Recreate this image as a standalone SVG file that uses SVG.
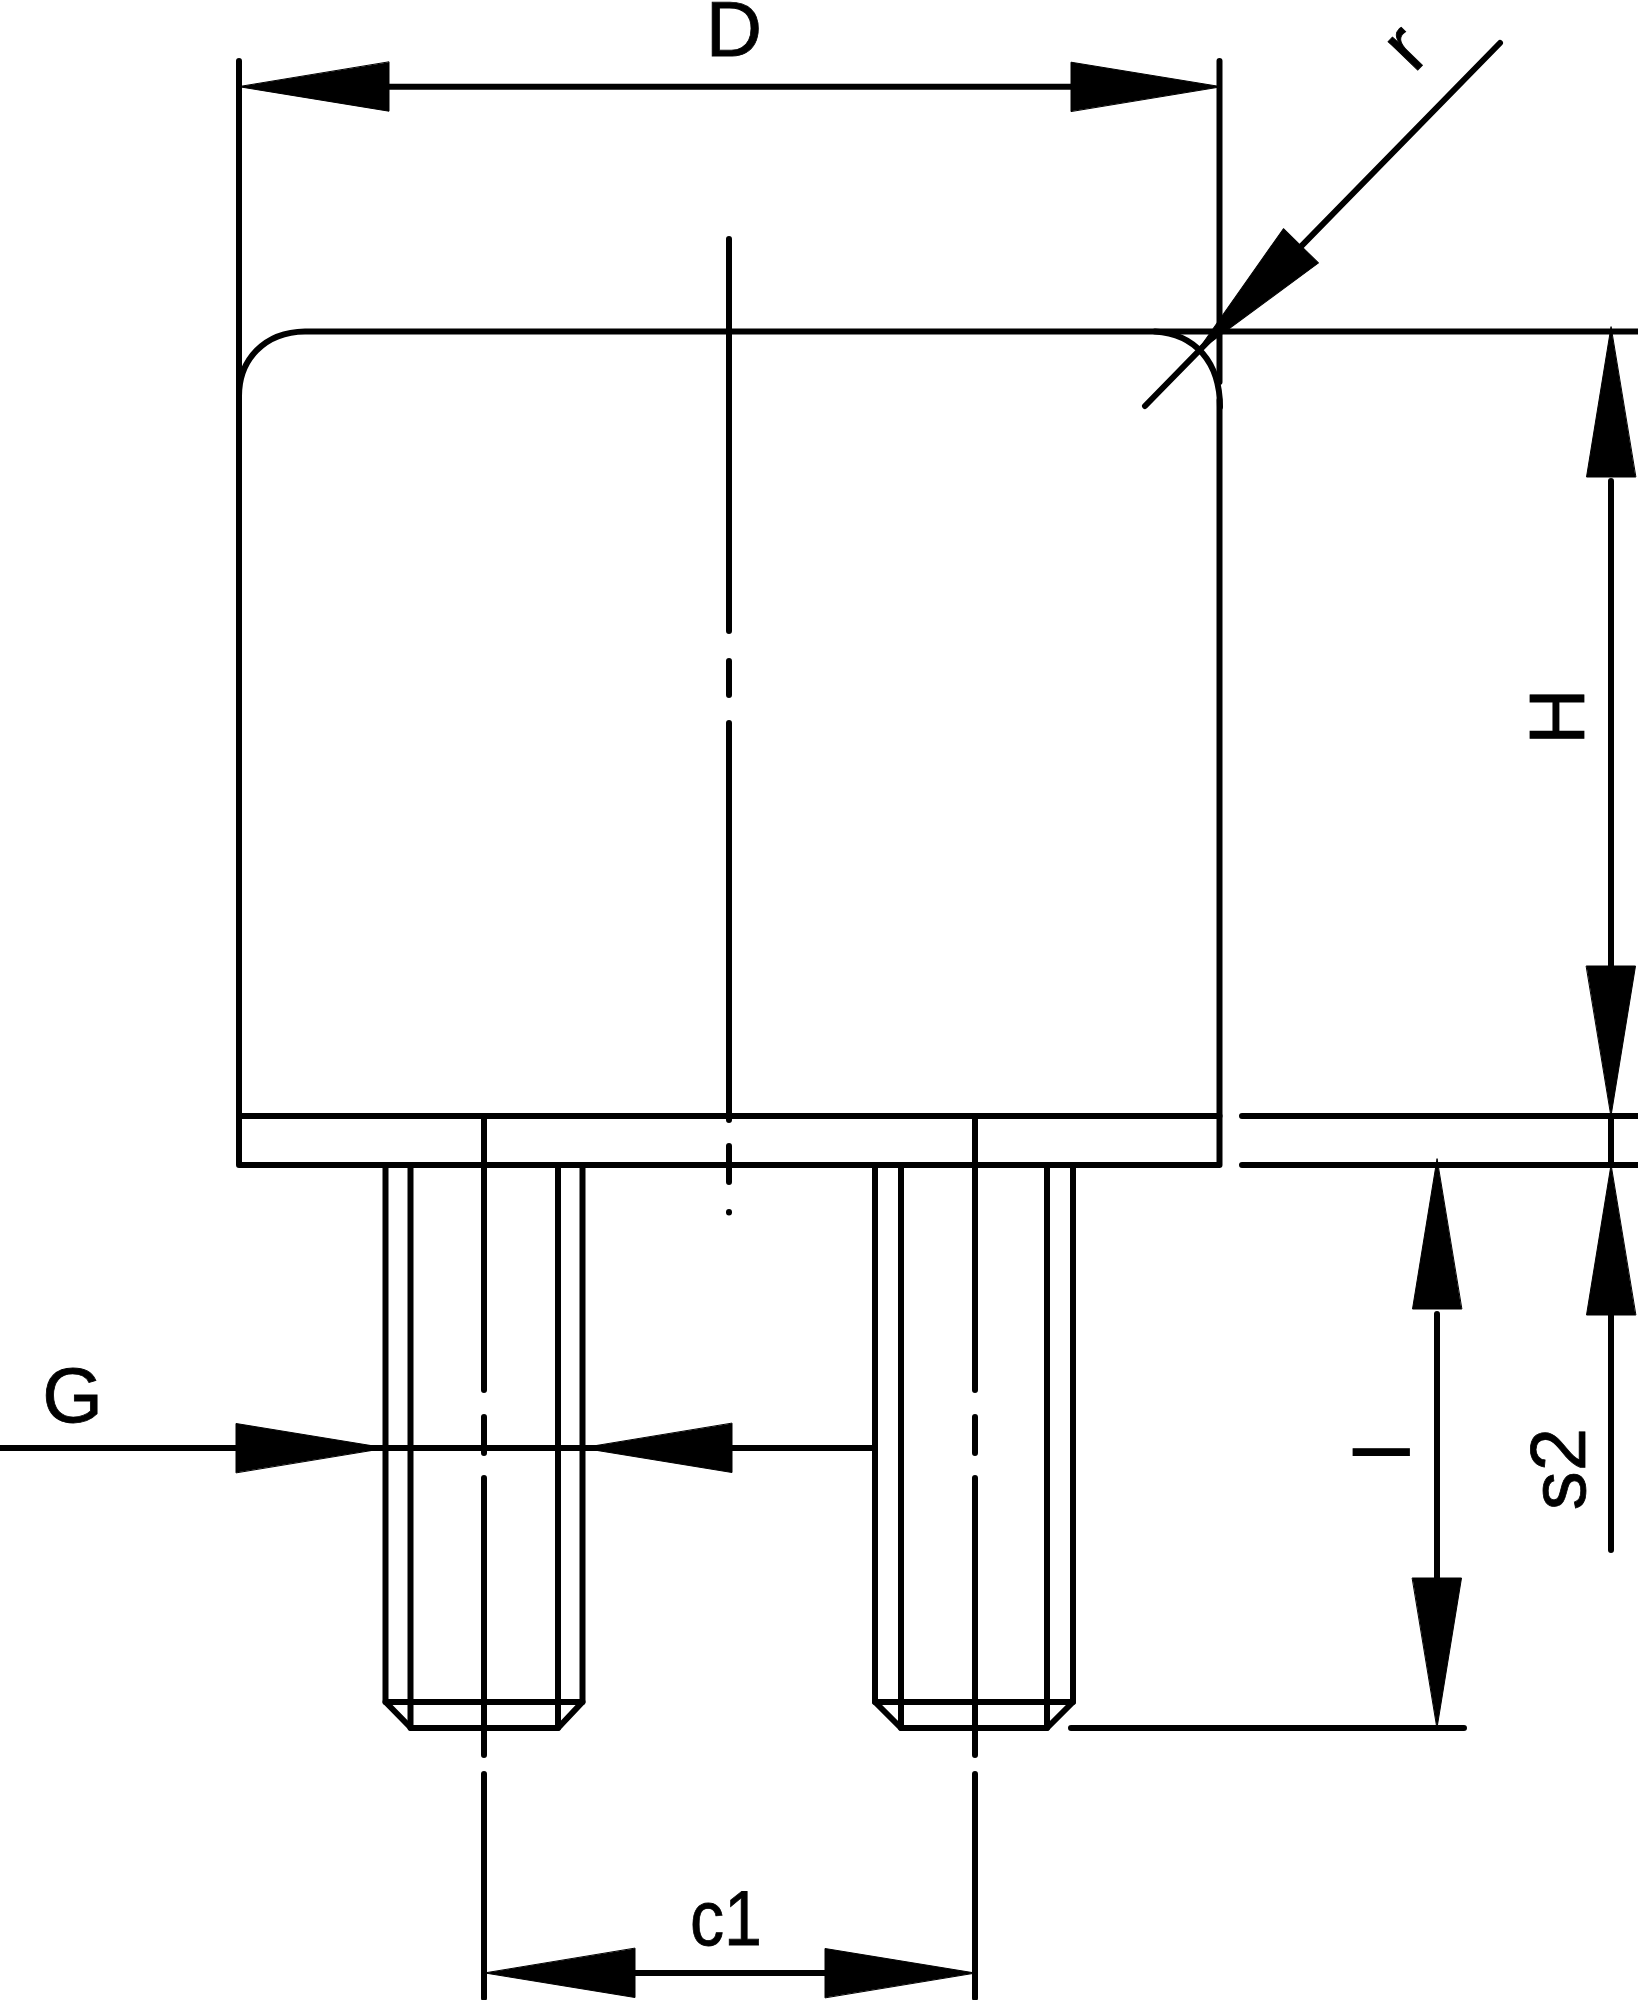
<svg xmlns="http://www.w3.org/2000/svg" width="1638" height="2000" viewBox="0 0 1638 2000">
<style>
.l{fill:none;stroke:#000;stroke-width:6;stroke-linecap:round;stroke-linejoin:round}
.t{font-family:"Liberation Sans",Arial,sans-serif;font-size:78px;fill:#000;stroke:#000;stroke-width:0.8}
</style>
<defs><polygon id="ah" points="0,0 -150,-24.5 -150,24.5" fill="#000" stroke="#000" stroke-width="1" stroke-linejoin="round"/></defs>
<rect width="1638" height="2000" fill="#fff"/>
<g id="body" class="l">
<path d="M239 61V1165H1219.500V400"/>
<path d="M239 396C239 360 264 332 305 331.500H1637"/>
<path d="M1155 331.500C1195 334 1220 362 1220 407"/>
<path d="M1219.500 61V382"/>
<path d="M239 1116H1219.500M1242 1116H1637M1242 1165H1637"/>
</g>
<g id="centerline" class="l">
<path d="M729 239V631M729 661V695M729 723V1120M729 1146V1182M729 1212V1212.500"/>
</g>
<g id="pin-left" class="l">
<path d="M385.500 1165V1702L411 1728H558L582.500 1702V1165"/>
<path d="M410.500 1165V1728M558 1165V1728M385.500 1702H582.500"/>
<path d="M484 1116V1390M484 1417V1453M484 1478V1755"/>
</g>
<g id="pin-right" class="l">
<path d="M875 1165V1702L901 1728H1047L1073 1702V1165"/>
<path d="M901 1165V1728M1047 1165V1728M875 1702H1073"/>
<path d="M975 1116V1390M975 1417V1453M975 1478V1755"/>
</g>
<g id="connectors" class="l">
<path d="M388 86.700H1071"/>
<path d="M1500 43L1145 406"/>
<path d="M1611 481V966M1611 1116V1165M1611 1314V1550"/>
<path d="M1437 1314V1579M1071 1728H1464"/>
<path d="M0 1448H875"/>
<path d="M484 1774V1998M975 1774V1998M634 1973H825"/>
<g stroke="none">
<use href="#ah" transform="translate(239,86.700) rotate(180)"/>
<use href="#ah" transform="translate(1221,86.700)"/>
<use href="#ah" transform="translate(1196,353) rotate(134.400)"/>
<use href="#ah" transform="translate(1611,327) rotate(-90)"/>
<use href="#ah" transform="translate(1611,1116) rotate(90)"/>
<use href="#ah" transform="translate(1611,1165) rotate(-90)"/>
<use href="#ah" transform="translate(1437,1159) rotate(-90)"/>
<use href="#ah" transform="translate(1437,1728) rotate(90)"/>
<use href="#ah" transform="translate(386,1448)"/>
<use href="#ah" transform="translate(582,1448) rotate(180)"/>
<use href="#ah" transform="translate(485,1973) rotate(180)"/>
<use href="#ah" transform="translate(975,1973)"/>
</g>
</g>
<g id="labels" class="t">
<text x="734" y="56" text-anchor="middle">D</text>
<text transform="translate(1414,74) rotate(-46)">r</text>
<text transform="translate(1584,716.500) rotate(-90)" text-anchor="middle">H</text>
<text x="72.500" y="1422" text-anchor="middle">G</text>
<text transform="translate(1410,1452) rotate(-90)" text-anchor="middle">l</text>
<text transform="translate(1585,1469) rotate(-90)" text-anchor="middle">s2</text>
<text x="726" y="1945" text-anchor="middle" textLength="72" lengthAdjust="spacingAndGlyphs">c1</text>
</g>
</svg>
